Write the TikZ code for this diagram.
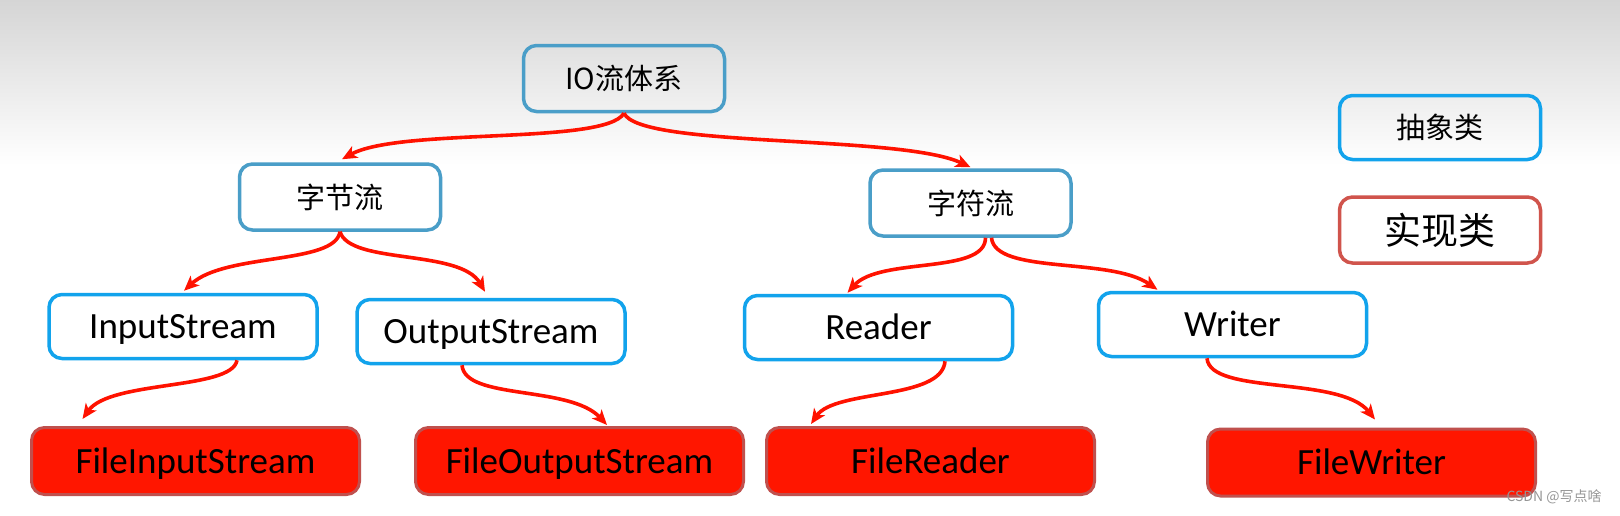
\documentclass[tikz,border=0pt]{standalone}
\usepackage{fontspec}
\setmainfont{Carlito}
\newfontfamily\cjk{Noto Sans CJK SC}
\usetikzlibrary{arrows.meta}
\definecolor{bgtop}{RGB}{213,213,213}
\definecolor{cone}{RGB}{74,158,200}
\definecolor{ctwo}{RGB}{18,163,236}
\definecolor{redf}{RGB}{255,22,0}
\definecolor{redb}{RGB}{192,80,77}
\definecolor{implb}{RGB}{208,84,76}
\definecolor{arrc}{RGB}{255,18,0}
\definecolor{wm}{RGB}{150,150,150}
\tikzset{
  lvlone/.style={draw=cone, line width=3.5pt, rounded corners=13pt, minimum width=201pt, minimum height=66pt, inner sep=0pt, text height=22pt, text depth=0pt, font=\cjk\fontsize{29}{34}\selectfont},
  legabs/.style={draw=ctwo, line width=3.5pt, rounded corners=13pt, minimum width=201pt, minimum height=64pt, inner sep=0pt, text height=22pt, text depth=0pt, font=\cjk\fontsize{29}{34}\selectfont},
  legimpl/.style={draw=implb, line width=3.5pt, rounded corners=13pt, minimum width=201pt, minimum height=66pt, inner sep=0pt, text height=28pt, text depth=0pt, font=\cjk\fontsize{37}{44}\selectfont},
  absbox/.style={draw=ctwo, fill=white, line width=3.5pt, rounded corners=13pt, minimum width=268pt, minimum height=64pt, inner sep=0pt, text height=24pt, text depth=0pt, font=\fontsize{37}{44}\selectfont},
  implbox/.style={draw=redb, fill=redf, line width=3pt, rounded corners=13pt, minimum width=328pt, minimum height=67pt, inner sep=0pt, text height=24pt, text depth=0pt, font=\fontsize{37}{44}\selectfont},
  arr/.style={draw=arrc, line width=3.6pt, -{Stealth[length=15pt,width=13pt,inset=4pt]}},
}
\begin{document}
\begin{tikzpicture}[x=1pt,y=-1pt]
\useasboundingbox (0,0) rectangle (1620,515);
\fill[white] (0,0) rectangle (1620,515);
\shade[top color=bgtop, bottom color=white] (0,0) rectangle (1620,165);

% level 1
\node[lvlone] (io)  at (624,78.5) {IO流体系};
\node[lvlone] (zjl) at (340,197) {字节流};
\node[lvlone] (zfl) at (970.5,203) {字符流};

% legend
\node[legabs]  (labs)  at (1440,127.5) {抽象类};
\node[legimpl] (limpl) at (1440,230) {实现类};

% abstract classes
\node[absbox] (ins)  at (183,326.5)   {InputStream};
\node[absbox] (outs) at (491,331.5)   {OutputStream};
\node[absbox] (rdr)  at (878.5,327.5) {Reader};
\node[absbox] (wtr)  at (1232.5,324.5){Writer};

% implementations
\node[implbox] (fis) at (195.5,461)   {FileInputStream};
\node[implbox] (fos) at (579.5,461)   {FileOutputStream};
\node[implbox] (frd) at (930.5,461)   {FileReader};
\node[implbox] (fwr) at (1371.5,462.5){FileWriter};

% connectors
\draw[arr] (io.south) .. controls +(-19,32) and +(58,-32) .. ([xshift=2pt,yshift=3pt]zjl.north);
\draw[arr] (io.south) .. controls +(16,35) and +(-70,-33) .. ([yshift=1pt]zfl.north);
\draw[arr] (zjl.south) .. controls +(-5,33) and +(41,-38) .. ([xshift=1pt,yshift=2pt]ins.north);
\draw[arr] (zjl.south) .. controls +(10,33) and +(-25,-43) .. ([xshift=-6pt,yshift=6pt]outs.north);
\draw[arr] ([xshift=15pt]zfl.south) .. controls +(0,37) and +(32.5,-36) .. ([xshift=-31pt,yshift=1pt]rdr.north);
\draw[arr] ([xshift=21pt]zfl.south) .. controls +(3.5,37) and +(-47.5,-33) .. ([xshift=-75pt,yshift=1pt]wtr.north);
\draw[arr] ([xshift=54pt]ins.south) .. controls +(-5,30) and +(27.5,-39) .. ([xshift=-113pt,yshift=7pt]fis.north);
\draw[arr] ([xshift=-29pt]outs.south) .. controls +(3,35) and +(-37,-40) .. ([xshift=27.5pt,yshift=1pt]fos.north);
\draw[arr] ([xshift=66.5pt]rdr.south) .. controls +(-3,39) and +(24,-35) .. ([xshift=-119.5pt,yshift=2pt]frd.north);
\draw[arr] ([xshift=-25.5pt]wtr.south) .. controls +(3,37) and +(-35,-44) .. ([xshift=3.5pt,yshift=8pt]fwr.north);

% watermark
\node[text=wm, font=\cjk\fontsize{14}{16}\selectfont, inner sep=0pt] (wmk) at (1554,497) {CSDN @写点啥};
\end{tikzpicture}
\end{document}
